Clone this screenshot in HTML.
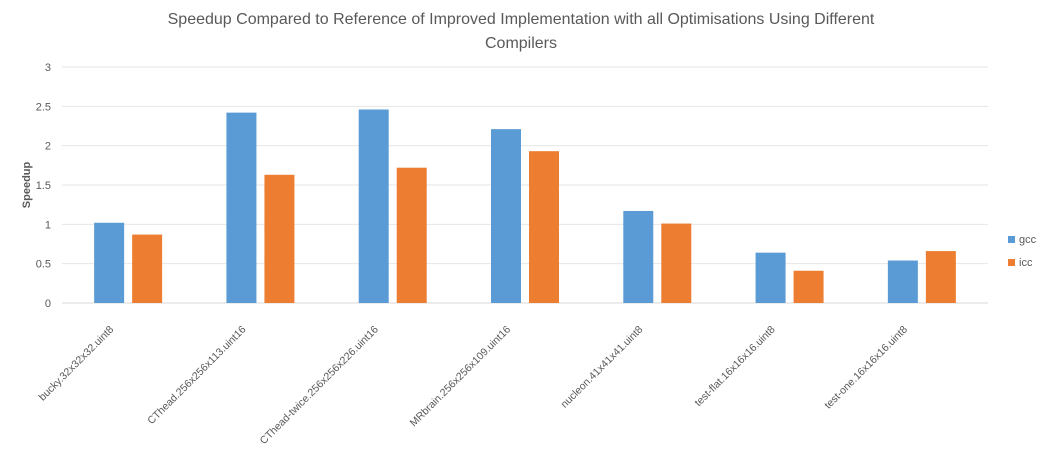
<!DOCTYPE html>
<html><head><meta charset="utf-8"><style>
body{margin:0;background:#fff;font-family:"Liberation Sans",sans-serif}
</style></head><body>
<svg id="c" width="1042" height="445" xmlns="http://www.w3.org/2000/svg">
<text x="521" y="24" text-anchor="middle" font-size="16" fill="#595959">Speedup Compared to Reference of Improved Implementation with all Optimisations Using Different</text>
<text x="521" y="48" text-anchor="middle" font-size="16" fill="#595959">Compilers</text>
<text transform="translate(30,185) rotate(-90)" text-anchor="middle" font-size="11" font-weight="bold" fill="#595959">Speedup</text>
<g id="grid"></g><g id="bars"></g><g id="labels"></g>
<rect x="1008" y="236" width="7" height="7" fill="#5b9bd5"/>
<text x="1019" y="243" font-size="11" fill="#595959">gcc</text>
<rect x="1008" y="259" width="7" height="7" fill="#ed7d31"/>
<text x="1019" y="266" font-size="11" fill="#595959">icc</text>
</svg>
<script>
const categories=["bucky.32x32x32.uint8","CThead.256x256x113.uint16","CThead-twice.256x256x226.uint16","MRbrain.256x256x109.uint16","nucleon.41x41x41.uint8","test-flat.16x16x16.uint8","test-one.16x16x16.uint8"];
const gcc=[1.02,2.42,2.46,2.21,1.17,0.64,0.54];
const icc=[0.87,1.63,1.72,1.93,1.01,0.41,0.66];
const ticks=[0,0.5,1,1.5,2,2.5,3];
const tickLabels=["0","0.5","1","1.5","2","2.5","3"];
const NS="http://www.w3.org/2000/svg";
const x0=62,x1=988,y0=303,y3=67;
const yS=v=>y0-(y0-y3)*v/3;
const cw=(x1-x0)/categories.length;
const xC=i=>x0+cw*(i+0.5);
function mk(t,a,p){const e=document.createElementNS(NS,t);for(const k in a)e.setAttribute(k,a[k]);document.getElementById(p).appendChild(e);return e;}
ticks.forEach((t,i)=>{
 const l=mk('line',{x1:x0,x2:x1,y1:yS(t),y2:yS(t),stroke:i==0?'#d9d9d9':'#e6e6e6','stroke-width':1},'grid');
 
 
 const tx=mk('text',{x:51,y:yS(t)+4,'text-anchor':'end','font-size':11,fill:'#595959'},'grid');
 tx.textContent=tickLabels[i];
 
 
});
const bw=30;
categories.forEach((c,i)=>{
 const g=mk('rect',{x:xC(i)-34,y:yS(gcc[i]),width:bw,height:y0-yS(gcc[i]),fill:'#5b9bd5'},'bars');
 
 
 const r=mk('rect',{x:xC(i)+4,y:yS(icc[i]),width:bw,height:y0-yS(icc[i]),fill:'#ed7d31'},'bars');
 
 
 const ax=xC(i)-14,ay=330;
 const t=mk('text',{x:ax,y:ay,'text-anchor':'end','font-size':10.5,fill:'#595959',transform:`rotate(-45 ${ax} ${ay})`},'labels');
 t.textContent=c;
 
 
});
</script>
</body></html>
